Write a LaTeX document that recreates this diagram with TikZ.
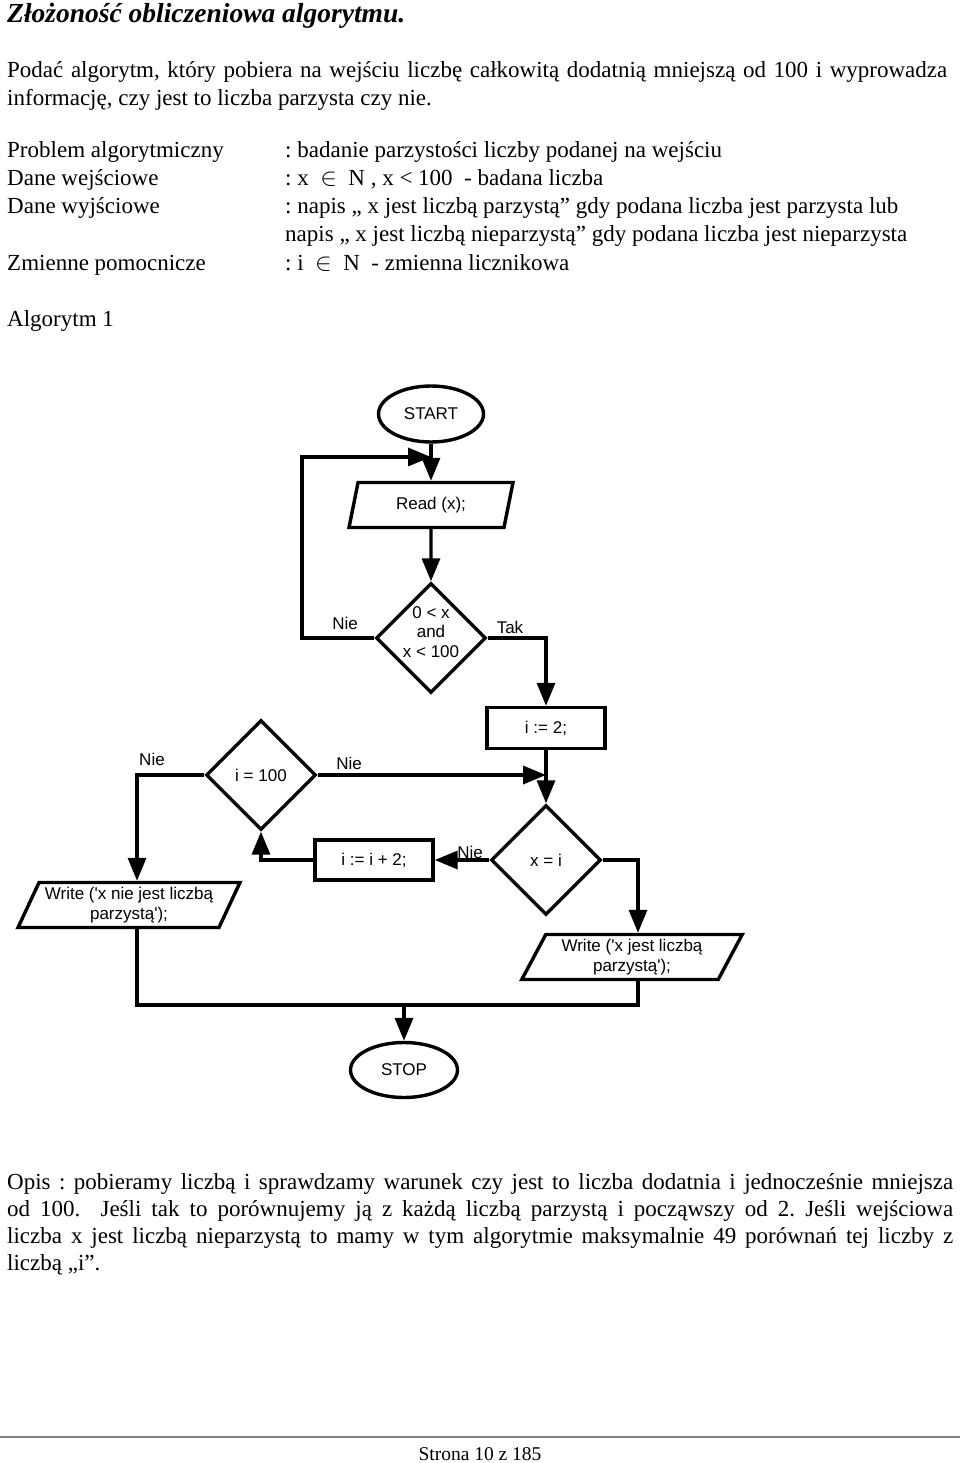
\documentclass[tikz,border=0pt]{standalone}
\usepackage{fontspec}
\setmainfont{Liberation Serif}
\newfontfamily\chartfont{Liberation Sans}
\usetikzlibrary{shapes.geometric,arrows.meta}

\begin{document}
\frenchspacing
\begin{tikzpicture}[x=1pt,y=-1pt]
	\tikzstyle{body}=[anchor=base west,inner sep=0pt,font=\fontsize{23}{27.5}\selectfont]
	\tikzstyle{para}=[body,text width=#1,align=justify]
	\tikzstyle{chart}=[draw,line width=3.4pt,inner sep=1pt,align=center,font=\chartfont\fontsize{17}{19.5}\selectfont]
	\tikzstyle{term}=[chart,ellipse,minimum width=105pt,minimum height=56pt]
	\tikzstyle{io}=[chart,trapezium,trapezium left angle=62,trapezium right angle=118,trapezium stretches=true,minimum height=45pt]
	\tikzstyle{proc}=[chart,rectangle,minimum width=118pt,minimum height=41pt]
	\tikzstyle{cond}=[chart,diamond,inner sep=0pt,minimum size=110pt]
	\tikzstyle{lab}=[inner sep=0pt,font=\chartfont\fontsize{17}{19.5}\selectfont]
	\tikzstyle{wire}=[line width=3.4pt]
	\tikzstyle{flow}=[wire,-{Triangle[length=23pt,width=18pt]}]

	\useasboundingbox (0,0) rectangle (960,1463);

	% page text
	\node [body,font=\fontsize{27.5}{30}\selectfont\bfseries\itshape] (title) at (7,23) {Złożoność obliczeniowa algorytmu.};
	\node [para=940pt] (task) at (7,78) {Podać algorytm, który pobiera na wejściu liczbę całkowitą dodatnią mniejszą od 100 i wyprowadza\linebreak informację, czy jest to liczba parzysta czy nie.};

	\node [body] (problem) at (7,158) {Problem algorytmiczny};
	\node [body] (input) at (7,186) {Dane wejściowe};
	\node [body] (output) at (7,214) {Dane wyjściowe};
	\node [body] (aux) at (7,270) {Zmienne pomocnicze};
	\node [body] (problem_val) at (285,158) {: badanie parzystości liczby podanej na wejściu};
	\node [body] (input_val) at (285,186) {: x \ $\in$ \ N , x < 100 \ - badana liczba};
	\node [body] (output_val) at (285,214) {: napis „ x jest liczbą parzystą” gdy podana liczba jest parzysta lub};
	\node [body] (output_val2) at (285,242) {napis „ x jest liczbą nieparzystą” gdy podana liczba jest nieparzysta};
	\node [body] (aux_val) at (285,270) {: i \ $\in$ \ N \ - zmienna licznikowa};
	\node [body] (alg) at (7,326) {Algorytm 1};

	% flowchart
	\node [term] (start) at (431,414) {START};
	\node [io,trapezium left angle=76,trapezium right angle=104,minimum width=165pt] (read) at (431,505) {Read (x);};
	\node [cond,inner sep=-3pt] (range) at (431,638) {0 < x\\and\\x < 100\rule[-12pt]{0pt}{0pt}};
	\node [proc] (i_init) at (546,728) {i := 2;};
	\node [cond] (i_max) at (261,775) {i = 100};
	\node [cond] (x_eq_i) at (546,860) {x = i};
	\node [proc,minimum height=40pt] (i_next) at (374,860) {i := i + 2;};
	\node [io,minimum width=222pt] (write_odd) at (129,905) {Write ('x nie jest liczbą\\parzystą');};
	\node [io,minimum width=221pt] (write_even) at (632,957) {Write ('x jest liczbą\\parzystą');};
	\node [term,minimum width=107pt,minimum height=55pt] (stop) at (404,1070) {STOP};

	\node [lab] (nie_range) at (345,623) {Nie};
	\node [lab] (tak_range) at (510,627) {Tak};
	\node [lab] (nie_max_l) at (152,759) {Nie};
	\node [lab] (nie_max_r) at (349,763) {Nie};
	\node [lab] (nie_check) at (470,852) {Nie};

	\coordinate (loop_top) at (302,457);
	\coordinate (loop_in) at (431,457);
	\coordinate (join_check) at (546,775);
	\coordinate (merge) at (404,1005);

	\foreach \source/\dest in
	{start/read,read/range,i_init/x_eq_i,x_eq_i/i_next,i_max/join_check,merge/stop}
	  \draw [flow](\source) -- (\dest);

	\draw [flow] (range.west) -| (loop_top) -- (loop_in);
	\draw [flow] (range.east) -| (i_init.north);
	\draw [flow] (i_max.west) -| ([xshift=8pt]write_odd.north);
	\draw [flow] (i_next.west) -| (i_max.south);
	\draw [flow] (x_eq_i.east) -| ([xshift=6pt]write_even.north);
	\draw [wire] ([xshift=8pt]write_odd.south) |- (merge) -| ([xshift=6pt]write_even.south);

	% description
	\node [para=946pt,font=\fontsize{23}{27}\selectfont] (desc) at (7,1189) {Opis : pobieramy liczbą i sprawdzamy warunek czy jest to liczba dodatnia i jednocześnie mniejsza\linebreak od 100.~ Jeśli tak to porównujemy ją z każdą liczbą parzystą i począwszy od 2. Jeśli wejściowa\linebreak liczba x jest liczbą nieparzystą to mamy w tym algorytmie maksymalnie 49 porównań tej liczby z\linebreak liczbą „i”.};

	% footer
	\draw [gray,line width=1.5pt] (0,1437) -- (960,1437);
	\node [body,anchor=base,font=\fontsize{19.5}{22}\selectfont] (page) at (480,1460) {Strona 10 z 185};
\end{tikzpicture}
\end{document}
